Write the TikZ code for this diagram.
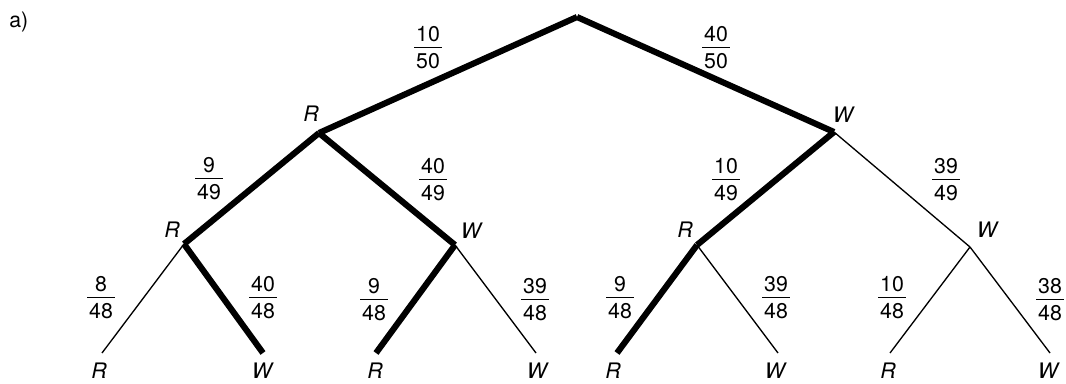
\documentclass[tikz,border=0pt]{standalone}
\usepackage{fontspec}
\setmainfont{TeX Gyre Heros}
\newcommand\fr[2]{\vbox{\offinterlineskip\halign{\hfil\kern1.6pt##\kern1.6pt\hfil\cr #1\cr\noalign{\kern3.4pt\hrule height0.7pt\kern4.5pt}#2\cr}}}
\begin{document}
\begin{tikzpicture}[x=0.75pt,y=-0.75pt,
  every node/.style={font=\fontsize{16}{19}\selectfont},
  thick edge/.style={line width=4.6pt},
  thin edge/.style={line width=1pt},
  lbl/.style={inner sep=0,font=\fontsize{16}{19}\selectfont\itshape},
  frac/.style={inner sep=0,yshift=-0.55pt}]
\useasboundingbox (0,0) rectangle (1066,383);
\node[anchor=west,inner sep=0] (a) at (9,22) {a)};
% tree points
\coordinate (A) at (577,17);
\coordinate (R1) at (319,133);
\coordinate (W1) at (834,132);
\coordinate (R2) at (184,244);
\coordinate (W2) at (455,245);
\coordinate (R3) at (697,245);
\coordinate (W4) at (970,247);
\coordinate (L1) at (102,353);
\coordinate (L2) at (263,353);
\coordinate (L3) at (376,353);
\coordinate (L4) at (536,353);
\coordinate (L5) at (617,353);
\coordinate (L6) at (778,353);
\coordinate (L7) at (890,353);
\coordinate (L8) at (1050,353);
% edges
\draw[thick edge] (A) -- (R1);
\draw[thick edge] (A) -- (W1);
\draw[thick edge] (R1) -- (R2);
\draw[thick edge] (R1) -- (W2);
\draw[thick edge] (W1) -- (R3);
\draw[thin edge] (W1) -- (W4);
\draw[thin edge] (R2) -- (L1);
\draw[thick edge] (R2) -- (L2);
\draw[thick edge] (W2) -- (L3);
\draw[thin edge] (W2) -- (L4);
\draw[thick edge] (R3) -- (L5);
\draw[thin edge] (R3) -- (L6);
\draw[thin edge] (W4) -- (L7);
\draw[thin edge] (W4) -- (L8);
% node labels
\node[lbl] (tR1) at (311,114) {R};
\node[lbl] (tW1) at (843,115) {W};
\node[lbl] (tR2) at (172,230) {R};
\node[lbl] (tW2) at (471,231) {W};
\node[lbl] (tR3) at (685,230) {R};
\node[lbl] (tW4) at (987,230) {W};
\node[lbl] (tL1) at (99,371) {R};
\node[lbl] (tL2) at (262,371) {W};
\node[lbl] (tL3) at (375,371) {R};
\node[lbl] (tL4) at (537,371) {W};
\node[lbl] (tL5) at (613,371) {R};
\node[lbl] (tL6) at (775,371) {W};
\node[lbl] (tL7) at (888,371) {R};
\node[lbl] (tL8) at (1048,371) {W};
% probabilities
\node[frac] (f1) at (428,47) {\fr{10}{50}};
\node[frac] (f2) at (716,47) {\fr{40}{50}};
\node[frac] (f3) at (209,178) {\fr{9}{49}};
\node[frac] (f4) at (433,179) {\fr{40}{49}};
\node[frac] (f5) at (726,179) {\fr{10}{49}};
\node[frac] (f6) at (946,179) {\fr{39}{49}};
\node[frac] (f7) at (101,297) {\fr{8}{48}};
\node[frac] (f8) at (263,297) {\fr{40}{48}};
\node[frac] (f9) at (374,299) {\fr{9}{48}};
\node[frac] (f10) at (535,299) {\fr{39}{48}};
\node[frac] (f11) at (620,297) {\fr{9}{48}};
\node[frac] (f12) at (776,297) {\fr{39}{48}};
\node[frac] (f13) at (892,297) {\fr{10}{48}};
\node[frac] (f14) at (1050,299) {\fr{38}{48}};
\end{tikzpicture}
\end{document}
